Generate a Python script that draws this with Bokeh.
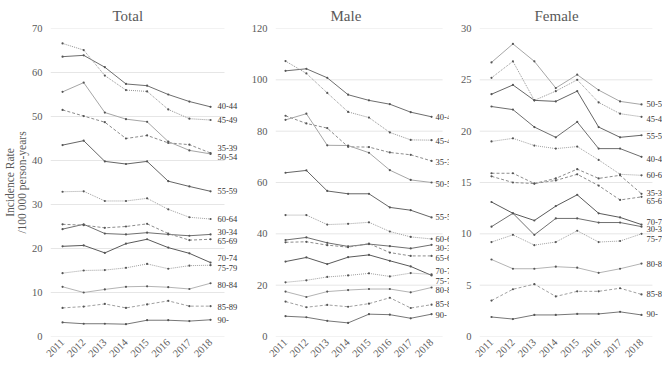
from bokeh.plotting import figure
from bokeh.layouts import row
from bokeh.models import Range1d, FixedTicker, Label
from bokeh.embed import file_html
from bokeh.resources import INLINE
import math

years = [2011, 2012, 2013, 2014, 2015, 2016, 2017, 2018]
groups = ["30-34", "35-39", "40-44", "45-49", "50-54", "55-59", "60-64",
          "65-69", "70-74", "75-79", "80-84", "85-89", "90-"]

# ---- Total ----
t_30_34 = [24.4, 25.5, 23.4, 23.2, 23.6, 23.2, 22.9, 23.2]
t_35_39 = [51.5, 50.1, 48.7, 45.0, 45.7, 44.0, 43.6, 41.7]
t_40_44 = [63.6, 63.9, 61.2, 57.4, 57.0, 55.0, 53.4, 52.2]
t_45_49 = [66.6, 65.1, 59.3, 56.0, 55.7, 51.6, 49.5, 49.2]
t_50_54 = [55.6, 57.7, 50.9, 49.4, 48.8, 44.3, 42.3, 41.5]
t_55_59 = [43.5, 44.5, 39.8, 39.2, 39.8, 35.3, 34.1, 33.0]
t_60_64 = [32.9, 33.0, 30.8, 30.8, 31.4, 28.9, 27.1, 26.7]
t_65_69 = [25.5, 25.3, 24.7, 25.0, 25.6, 23.4, 21.9, 22.1]
t_70_74 = [20.5, 20.7, 19.0, 21.1, 22.1, 20.2, 18.9, 16.8]
t_75_79 = [14.4, 15.0, 15.1, 15.6, 16.5, 15.4, 16.1, 16.2]
t_80_84 = [11.3, 10.0, 10.7, 11.3, 11.4, 11.2, 10.8, 12.1]
t_85_89 = [6.5, 6.8, 7.4, 6.5, 7.3, 8.1, 6.9, 6.9]
t_90 = [3.2, 2.9, 2.9, 2.8, 3.7, 3.7, 3.5, 3.8]
t_label_y = [23.8, 42.9, 52.5, 49.2, 40.7, 33.0, 26.8, 21.8, 17.8, 15.6, 11.6, 6.8, 3.8]

# ---- Male ----
m_30_34 = [37.6, 38.6, 36.5, 35.1, 36.0, 35.2, 34.3, 35.7]
m_35_39 = [86.0, 83.0, 81.2, 73.9, 73.8, 71.7, 70.8, 68.4]
m_40_44 = [103.5, 104.3, 100.8, 94.2, 92.0, 90.5, 87.4, 85.6]
m_45_49 = [107.3, 102.5, 94.9, 87.5, 85.3, 79.5, 76.6, 76.5]
m_50_54 = [84.4, 86.8, 74.5, 74.4, 71.6, 64.8, 61.0, 60.0]
m_55_59 = [63.8, 64.7, 56.7, 55.6, 55.6, 50.3, 49.2, 46.4]
m_60_64 = [47.3, 47.3, 43.6, 43.9, 44.5, 40.9, 38.8, 38.0]
m_65_69 = [36.7, 36.9, 35.6, 34.8, 36.2, 32.7, 31.4, 31.4]
m_70_74 = [29.2, 30.8, 28.2, 30.9, 31.8, 29.5, 27.3, 23.8]
m_75_79 = [21.1, 21.9, 23.2, 23.8, 24.6, 23.4, 24.7, 24.2]
m_80_84 = [17.5, 15.4, 17.5, 18.1, 18.5, 18.5, 17.2, 19.1]
m_85_89 = [13.6, 11.4, 12.3, 11.6, 12.8, 15.1, 11.1, 12.4]
m_90 = [7.9, 7.5, 6.1, 5.3, 8.7, 8.5, 7.1, 8.7]
m_label_y = [34.3, 67.8, 85.7, 76.1, 59.6, 46.4, 38.0, 30.5, 25.4, 21.6, 18.2, 12.5, 8.4]

# ---- Female ----
f_30_34 = [10.7, 12.0, 9.9, 11.5, 11.5, 11.1, 11.1, 10.7]
f_35_39 = [15.9, 15.9, 14.9, 15.4, 16.3, 15.4, 15.7, 13.9]
f_40_44 = [22.4, 22.1, 20.4, 19.4, 20.9, 18.3, 18.3, 17.5]
f_45_49 = [25.2, 26.8, 23.0, 23.9, 25.0, 22.8, 21.7, 21.4]
f_50_54 = [26.7, 28.5, 26.8, 24.2, 25.5, 24.0, 22.9, 22.6]
f_55_59 = [23.6, 24.5, 23.0, 22.9, 23.9, 20.4, 19.4, 19.6]
f_60_64 = [19.0, 19.3, 18.6, 18.3, 18.5, 17.2, 15.8, 15.7]
f_65_69 = [15.6, 15.0, 14.9, 15.2, 15.8, 14.7, 13.3, 13.6]
f_70_74 = [13.1, 12.0, 11.3, 12.7, 13.8, 12.0, 11.6, 10.9]
f_75_79 = [9.2, 9.9, 8.9, 9.2, 10.3, 9.2, 9.3, 10.0]
f_80_84 = [7.5, 6.6, 6.6, 6.8, 6.7, 6.2, 6.6, 7.1]
f_85_89 = [3.5, 4.6, 5.1, 3.9, 4.4, 4.4, 4.7, 4.1]
f_90 = [1.9, 1.7, 2.1, 2.1, 2.2, 2.2, 2.4, 2.1]
f_label_y = [10.5, 14.0, 17.3, 21.2, 22.6, 19.5, 15.7, 13.2, 11.2, 9.5, 7.1, 4.1, 2.2]

total_series = [t_30_34, t_35_39, t_40_44, t_45_49, t_50_54, t_55_59, t_60_64,
                t_65_69, t_70_74, t_75_79, t_80_84, t_85_89, t_90]
male_series = [m_30_34, m_35_39, m_40_44, m_45_49, m_50_54, m_55_59, m_60_64,
               m_65_69, m_70_74, m_75_79, m_80_84, m_85_89, m_90]
female_series = [f_30_34, f_35_39, f_40_44, f_45_49, f_50_54, f_55_59, f_60_64,
                 f_65_69, f_70_74, f_75_79, f_80_84, f_85_89, f_90]

total_ticks = [0, 10, 20, 30, 40, 50, 60, 70]
male_ticks = [0, 20, 40, 60, 80, 100, 120]
female_ticks = [0, 5, 10, 15, 20, 25, 30]

styles = {
    "30-34": ("#707070", "solid"),
    "35-39": ("#8c8c8c", "3 2"),
    "40-44": ("#6e6e6e", "solid"),
    "45-49": ("#959595", "1 1"),
    "50-54": ("#a6a6a6", "solid"),
    "55-59": ("#666666", "solid"),
    "60-64": ("#a0a0a0", "1 1"),
    "65-69": ("#8c8c8c", "3 2"),
    "70-74": ("#5a5a5a", "solid"),
    "75-79": ("#a0a0a0", "1 1"),
    "80-84": ("#b4b4b4", "solid"),
    "85-89": ("#a0a0a0", "3 2"),
    "90-": ("#777777", "solid"),
}

FONT = "Liberation Serif"


def make_panel(title, series, label_y, ticks, frame_w, left, right, xr, grid_end,
               title_offset, yaxis_label=None, label_dx=6):
    p = figure(frame_width=frame_w, frame_height=308, output_backend="svg",
               toolbar_location=None,
               x_range=Range1d(*xr), y_range=Range1d(ticks[0], ticks[-1]),
               min_border_left=left, min_border_right=right,
               min_border_top=27, min_border_bottom=31)
    p.title.text = title
    p.title.align = "left"
    p.title.offset = title_offset
    p.title.text_font = FONT
    p.title.text_font_size = "15px"
    p.title.text_font_style = "normal"
    p.title.text_color = "#595959"
    p.outline_line_color = None
    p.background_fill_color = "white"
    p.border_fill_color = "white"
    p.xgrid.grid_line_color = None
    p.ygrid.grid_line_color = None
    p.yaxis.ticker = FixedTicker(ticks=ticks)
    p.xaxis.ticker = FixedTicker(ticks=years)
    for ax in (p.xaxis[0], p.yaxis[0]):
        ax.axis_line_color = None
        ax.major_tick_line_color = None
        ax.minor_tick_line_color = None
        ax.major_tick_out = 0
        ax.major_tick_in = 0
        ax.minor_tick_out = 0
        ax.minor_tick_in = 0
        ax.major_label_text_font = FONT
        ax.major_label_text_font_size = "10.5px"
        ax.major_label_text_color = "#595959"
    p.yaxis.major_label_standoff = 8
    p.xaxis.major_label_orientation = math.pi / 4
    p.xaxis.major_label_standoff = 4
    if yaxis_label:
        p.yaxis.axis_label = yaxis_label
        p.yaxis.axis_label_text_font = FONT
        p.yaxis.axis_label_text_font_size = "11.5px"
        p.yaxis.axis_label_text_font_style = "normal"
        p.yaxis.axis_label_text_color = "#595959"
        p.yaxis.axis_label_text_line_height = 1.0
        p.yaxis.axis_label_standoff = 1

    # horizontal grid lines at the tick values, ending where the reference's grid ends
    p.segment(x0=[xr[0]] * len(ticks), x1=[grid_end] * len(ticks), y0=ticks, y1=ticks,
              line_color="#e6e6e6", line_width=1, level="underlay")

    for g, vals in zip(groups, series):
        color, dash = styles[g]
        p.line(years, vals, line_color=color, line_dash=dash, line_width=1)
        p.scatter(years, vals, size=2.2, color="#555555", line_width=0)

    for g, ly in zip(groups, label_y):
        p.add_layout(Label(x=years[-1], y=ly, text=g, x_offset=label_dx,
                           text_font=FONT, text_font_size="8.5px", text_color="#333333",
                           text_baseline="middle", text_align="left"))
    return p


p_total = make_panel("Total", total_series, t_label_y, total_ticks, 194, 45, 0,
                     (2010.43, 2019.607), 2018.66, 62,
                     yaxis_label="Incidence Rate\n/100 000 person-years", label_dx=7)
p_male = make_panel("Male", male_series, m_label_y, male_ticks, 174, 31, 0,
                    (2010.52, 2018.86), 2018.53, 55, label_dx=4)
p_female = make_panel("Female", female_series, f_label_y, female_ticks, 183, 30, 0,
                      (2010.44, 2018.98), 2018.51, 55, label_dx=5)

layout = row(p_total, p_male, p_female, spacing=0)

open("out.html", "w").write(file_html(layout, INLINE))
